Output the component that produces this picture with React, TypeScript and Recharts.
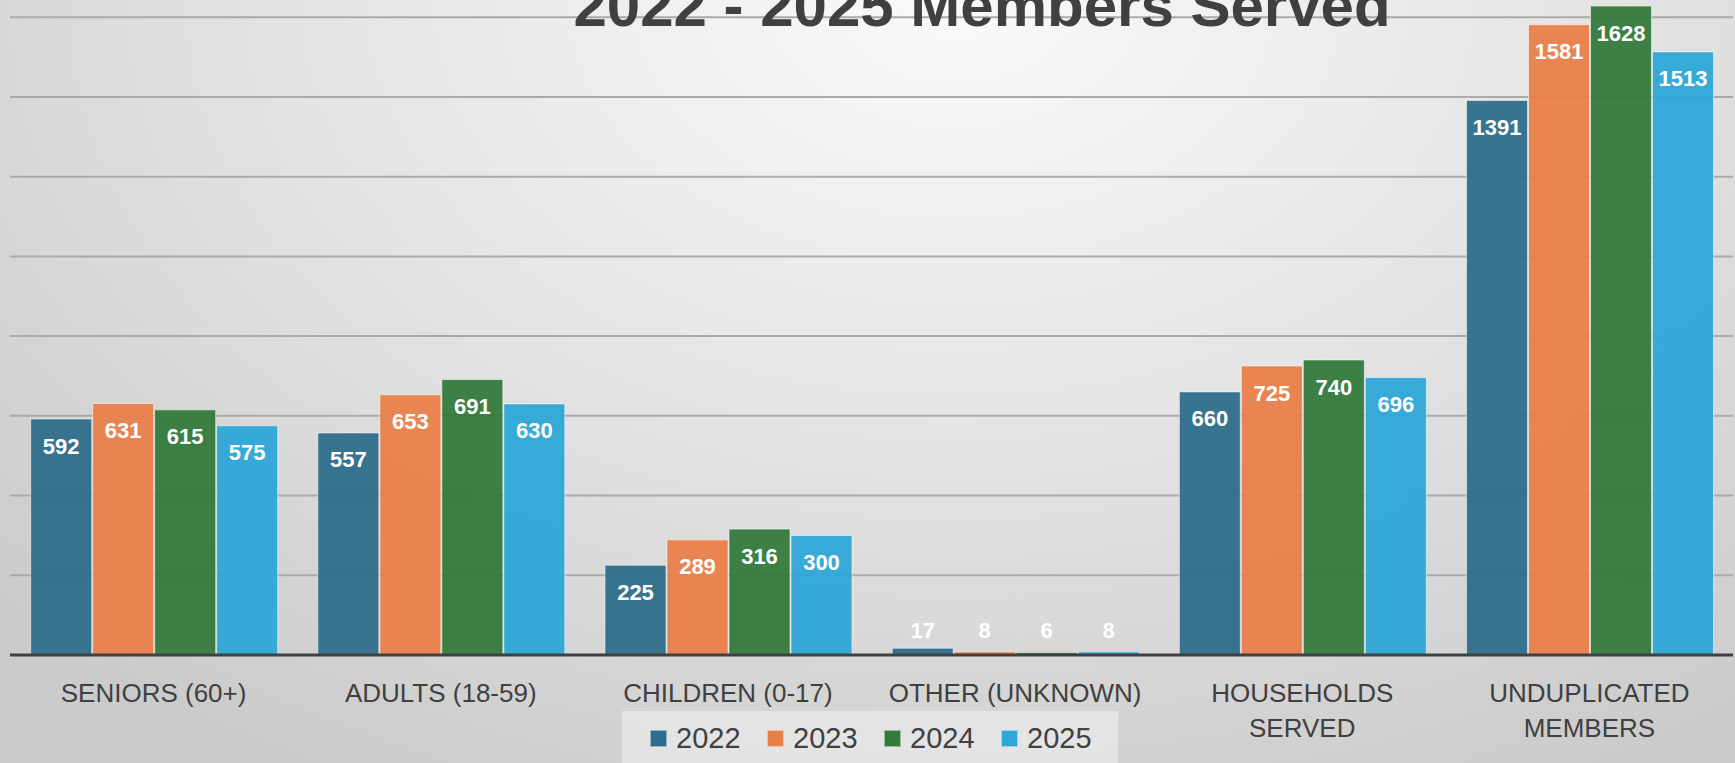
import React from 'react';
import { BarChart, Bar, XAxis, YAxis, CartesianGrid, Legend } from 'recharts';

const categories = [
  'SENIORS (60+)',
  'ADULTS (18-59)',
  'CHILDREN (0-17)',
  'OTHER (UNKNOWN)',
  'HOUSEHOLDS\nSERVED',
  'UNDUPLICATED\nMEMBERS',
];
const served2022 = [592, 557, 225, 17, 660, 1391];
const served2023 = [631, 653, 289, 8, 725, 1581];
const served2024 = [615, 691, 316, 6, 740, 1628];
const served2025 = [575, 630, 300, 8, 696, 1513];
const years = ['2022', '2023', '2024', '2025'];
const yTicks = [0, 200, 400, 600, 800, 1000, 1200, 1400, 1600, 1800];

const colors = ['#2e6d8b', '#e8804a', '#347a3c', '#2ea6d6'];
const textColor = '#404040';

const data = categories.map((name, i) => ({
  name,
  y2022: served2022[i],
  y2023: served2023[i],
  y2024: served2024[i],
  y2025: served2025[i],
}));

const renderValue = (props: any) => {
  const { x, y, width, height, value } = props;
  const cy = height > 50 ? y + 27 : y + height - 25;
  return (
    <text
      x={x + width / 2}
      y={cy}
      textAnchor="middle"
      dominantBaseline="central"
      fill="#ffffff"
      fontSize={22}
      fontWeight="bold"
      fontFamily="'Liberation Sans', Arial, sans-serif"
    >
      {value}
    </text>
  );
};

const CategoryTick = (props: any) => {
  const { x, y, payload } = props;
  const lines = String(payload.value).split('\n');
  return (
    <text
      x={x}
      y={y}
      textAnchor="middle"
      fill={textColor}
      fontSize={26}
      fontFamily="'Liberation Sans', Arial, sans-serif"
    >
      {lines.map((line, i) => (
        <tspan key={line} x={x} dy={i === 0 ? 46.7 : 35.6}>
          {line}
        </tspan>
      ))}
    </text>
  );
};

const LegendBox = () => (
  <div
    style={{
      width: 496,
      height: 55,
      background: 'rgba(235,235,235,0.7)',
      display: 'flex',
      alignItems: 'center',
      paddingLeft: 28,
      boxSizing: 'border-box',
      fontFamily: "'Liberation Sans', Arial, sans-serif",
    }}
  >
    {years.map((yr, i) => (
      <div key={yr} style={{ display: 'flex', alignItems: 'center', width: 120.7 }}>
        <span
          style={{
            width: 17,
            height: 17,
            background: colors[i],
            border: '1px solid rgba(255,255,255,0.5)',
            boxSizing: 'border-box',
            marginRight: 9,
          }}
        />
        <span style={{ fontSize: 29, color: textColor, lineHeight: 1 }}>{yr}</span>
      </div>
    ))}
  </div>
);

export default function App() {
  return (
    <div
      style={{
        position: 'absolute',
        top: 0,
        left: 0,
        width: 1735,
        height: 763,
        overflow: 'hidden',
        background:
          'radial-gradient(ellipse 75% 115% at 55% 0%, #fafafa 0%, #e4e4e4 50%, #cbcbcb 100%)',
      }}
    >
      <div style={{ position: 'absolute', top: -100, left: 0 }}>
        <BarChart
          width={1735}
          height={863}
          data={data}
          margin={{ top: 37.5, right: 2, bottom: 0, left: 10 }}
          barCategoryGap="7.2%"
          barGap={1}
        >
          <CartesianGrid vertical={false} stroke="#aaaaaa" strokeWidth={2} />
          <YAxis hide domain={[0, 1800]} ticks={yTicks} />
          <XAxis
            dataKey="name"
            height={108}
            tickSize={0}
            tickMargin={0}
            tickLine={false}
            axisLine={{ stroke: '#404040', strokeWidth: 3 }}
            tick={<CategoryTick />}
            interval={0}
          />
          <Legend
            layout="horizontal"
            verticalAlign="middle"
            content={<LegendBox />}
            wrapperStyle={{ position: 'absolute', left: 622, top: 811, width: 496, height: 55 }}
          />
          {years.map((yr, i) => (
            <Bar
              key={yr}
              dataKey={`y${yr}`}
              name={yr}
              fill={colors[i]}
              fillOpacity={0.95}
              stroke="rgba(255,255,255,0.55)"
              strokeWidth={1}
              isAnimationActive={false}
              label={renderValue}
            />
          ))}
        </BarChart>
      </div>
      <svg
        width={1735}
        height={80}
        style={{ position: 'absolute', top: 0, left: 0, pointerEvents: 'none' }}
      >
        <text
          x={982}
          y={26}
          textAnchor="middle"
          fill={textColor}
          fontSize={60}
          fontWeight="bold"
          fontFamily="'Liberation Sans', Arial, sans-serif"
        >
          2022 - 2025 Members Served
        </text>
      </svg>
    </div>
  );
}
